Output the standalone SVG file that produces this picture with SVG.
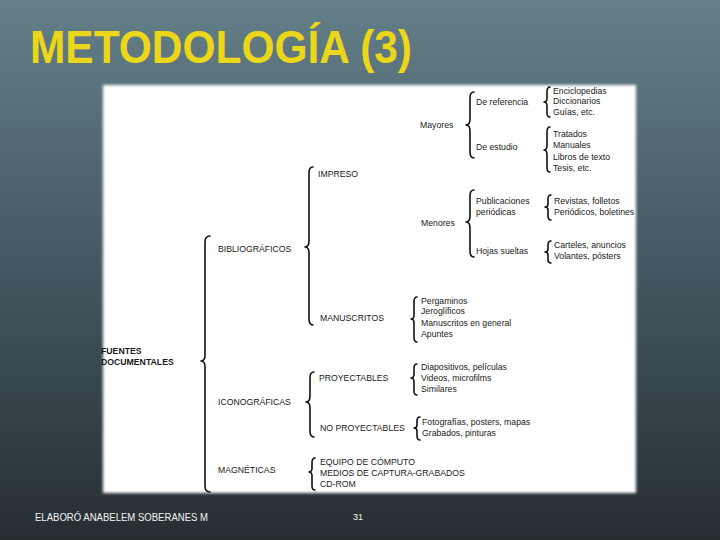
<svg xmlns="http://www.w3.org/2000/svg" width="720" height="540" viewBox="0 0 720 540">
<defs>
<linearGradient id="bg" x1="0" y1="0" x2="0" y2="1">
<stop offset="0" stop-color="#647f89"/>
<stop offset="0.45" stop-color="#465b64"/>
<stop offset="1" stop-color="#262e32"/>
</linearGradient>
<filter id="soft" x="-5%" y="-5%" width="110%" height="110%"><feGaussianBlur stdDeviation="1.6"/></filter>
<style>
.t{font-family:"Liberation Sans",Arial,sans-serif;font-size:8.7px;fill:#1a1a1a}
.b{font-weight:bold}
.br{fill:none;stroke:#111;stroke-width:1.6;stroke-linejoin:round;stroke-linecap:round}
.ft{font-family:"Liberation Sans",Arial,sans-serif;fill:#f2f2f2}
</style>
</defs>
<rect x="0" y="0" width="720" height="540" fill="url(#bg)"/>
<text x="30" y="63" font-family="Liberation Sans, Arial, sans-serif" font-weight="bold" font-size="46" fill="#ebd61a" textLength="382" lengthAdjust="spacingAndGlyphs">METODOLOGÍA (3)</text>
<rect x="103" y="85" width="533" height="408" fill="#ffffff" filter="url(#soft)"/>

<g id="connectors">
<path class="br" d="M210,236 Q205,236 205,242 L205,355 Q205,361 201,361 Q205,361 205,367 L205,486 Q205,492 210,492"/>
<path class="br" d="M313,167 Q309,167 309,173 L309,241 Q309,247 305,247 Q309,247 309,253 L309,319 Q309,325 313,325"/>
<path class="br" d="M314,372 Q310,372 310,378 L310,396 Q310,402 306,402 Q310,402 310,408 L310,431 Q310,437 314,437"/>
<path class="br" d="M315,458 Q312,458 312,463 L312,468 Q312,472 309,472 Q312,472 312,476 L312,486 Q312,490 315,490"/>
<path class="br" d="M474,92 Q470,92 470,98 L470,119 Q470,125 466,125 Q470,125 470,131 L470,152 Q470,158 474,158"/>
<path class="br" d="M474,190 Q470,190 470,196 L470,216 Q470,222 466,222 Q470,222 470,228 L470,251 Q470,257 474,257"/>
<path class="br" d="M550,87 Q547,87 547,92 L547,98 Q547,102 544,102 Q547,102 547,106 L547,113 Q547,117 550,117"/>
<path class="br" d="M550,127 Q547,127 547,132 L547,145 Q547,150 544,150 Q547,150 547,155 L547,168 Q547,172 550,172"/>
<path class="br" d="M551,195 Q548,195 548,199 L548,204 Q548,207 545,207 Q548,207 548,210 L548,216 Q548,220 551,220"/>
<path class="br" d="M551,241 Q548,241 548,245 L548,249 Q548,252 545,252 Q548,252 548,255 L548,260 Q548,263 551,263"/>
<path class="br" d="M417,297 Q414,297 414,302 L414,315 Q414,319 411,319 Q414,319 414,323 L414,337 Q414,342 417,342"/>
<path class="br" d="M417,364 Q414,364 414,368 L414,374 Q414,378 411,378 Q414,378 414,382 L414,391 Q414,395 417,395"/>
<path class="br" d="M420,417 Q417,417 417,421 L417,425 Q417,428 414,428 Q417,428 417,431 L417,436 Q417,440 420,440"/>
</g>

<g id="fuentes"><text class="t b" font-size="9.8" x="101" y="354">FUENTES</text><text class="t b" font-size="9.8" x="101" y="365">DOCUMENTALES</text></g>
<g id="bibliograficos"><text class="t" x="218" y="252">BIBLIOGRÁFICOS</text></g>
<g id="iconograficas"><text class="t" x="218" y="405">ICONOGRÁFICAS</text></g>
<g id="magneticas"><text class="t" x="218" y="473">MAGNÉTICAS</text></g>
<g id="impreso"><text class="t" x="318" y="177">IMPRESO</text></g>
<g id="manuscritos"><text class="t" x="320" y="321">MANUSCRITOS</text></g>
<g id="proyectables"><text class="t" x="319" y="381">PROYECTABLES</text></g>
<g id="noproyectables"><text class="t" x="320" y="431">NO PROYECTABLES</text></g>
<g id="mag-list"><text class="t" x="320" y="465">EQUIPO DE CÓMPUTO</text><text class="t" x="320" y="476">MEDIOS DE CAPTURA-GRABADOS</text><text class="t" x="320" y="487">CD-ROM</text></g>
<g id="mayores"><text class="t" x="420" y="128">Mayores</text></g>
<g id="menores"><text class="t" x="421" y="226">Menores</text></g>
<g id="dereferencia"><text class="t" x="476" y="105">De referencia</text></g>
<g id="deestudio"><text class="t" x="476" y="150">De estudio</text></g>
<g id="publicaciones"><text class="t" x="476" y="204">Publicaciones</text><text class="t" x="476" y="215">periódicas</text></g>
<g id="hojas"><text class="t" x="476" y="254">Hojas sueltas</text></g>
<g id="ref-list"><text class="t" x="553" y="94">Enciclopedias</text><text class="t" x="553" y="104">Diccionarios</text><text class="t" x="553" y="115">Guías, etc.</text></g>
<g id="est-list"><text class="t" x="553" y="137">Tratados</text><text class="t" x="553" y="148">Manuales</text><text class="t" x="553" y="160">Libros de texto</text><text class="t" x="553" y="171">Tesis, etc.</text></g>
<g id="pub-list"><text class="t" x="554" y="204">Revistas, folletos</text><text class="t" x="554" y="215">Periódicos, boletines</text></g>
<g id="hojas-list"><text class="t" x="554" y="248">Carteles, anuncios</text><text class="t" x="554" y="259">Volantes, pósters</text></g>
<g id="manu-list"><text class="t" x="421" y="304">Pergaminos</text><text class="t" x="421" y="314">Jeroglíficos</text><text class="t" x="421" y="326">Manuscritos en general</text><text class="t" x="421" y="337">Apuntes</text></g>
<g id="proy-list"><text class="t" x="421" y="370">Diapositivos, películas</text><text class="t" x="421" y="381">Videos, microfilms</text><text class="t" x="421" y="392">Similares</text></g>
<g id="noproy-list"><text class="t" x="422" y="425">Fotografías, posters, mapas</text><text class="t" x="422" y="436">Grabados, pinturas</text></g>

<text class="ft" x="35" y="521" font-size="10" textLength="173" lengthAdjust="spacingAndGlyphs">ELABORÓ ANABELEM SOBERANES M</text>
<text class="ft" x="353" y="520" font-size="9">31</text>
</svg>
